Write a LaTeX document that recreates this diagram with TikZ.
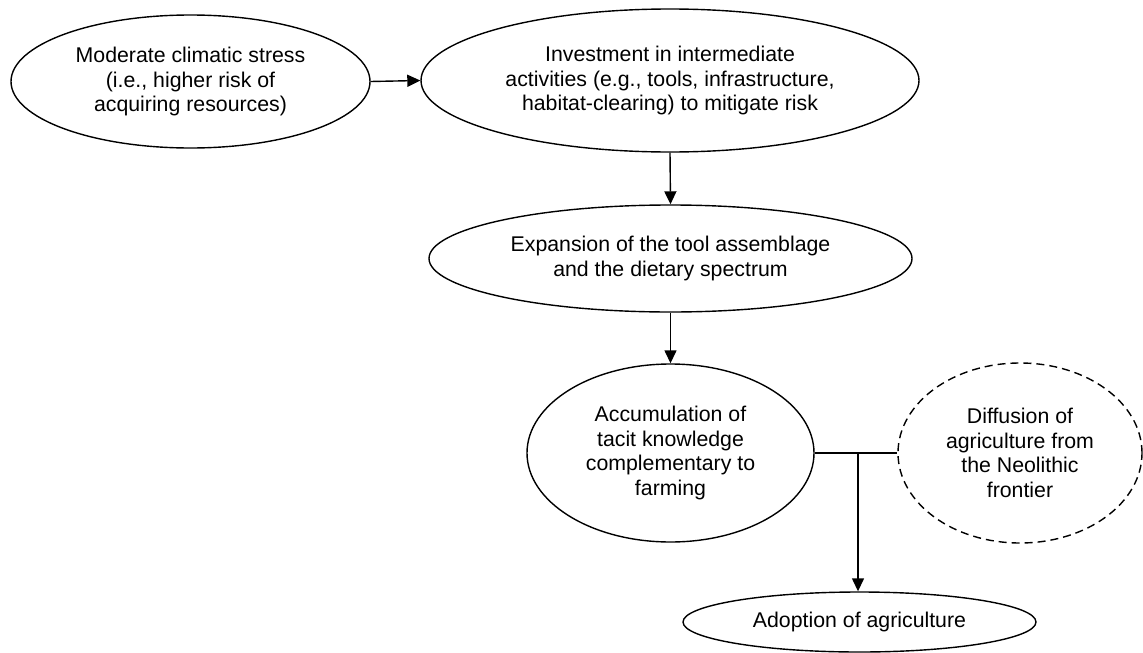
\documentclass[tikz,border=0pt]{standalone}
\usepackage{fontspec}
\setmainfont{Liberation Sans}
\usetikzlibrary{shapes.geometric,arrows.meta}
\begin{document}
\begin{tikzpicture}[x=1pt,y=-1pt,
  bub/.style={ellipse,draw,line width=1.4pt,inner sep=0pt,align=center,
    font=\fontsize{21.3}{24.5}\selectfont},
  dashbub/.style={bub,dash pattern=on 8pt off 5pt},
  link/.style={line width=1.4pt},
  arr/.style={link,-{Triangle[length=13pt,width=12pt]}}]
\useasboundingbox (0,0) rectangle (1143,653);
\node[bub,minimum width=359pt,minimum height=133pt] (e1) at (190.5,81.5)
  {Moderate climatic stress\\(i.e., higher risk of\\acquiring resources)};
\node[bub,minimum width=498pt,minimum height=143pt] (e2) at (670,80.5)
  {Investment in intermediate\\activities (e.g., tools, infrastructure,\\habitat-clearing) to mitigate risk};
\node[bub,minimum width=483pt,minimum height=107pt] (e3) at (670.5,258.5)
  {Expansion of the tool assemblage\\and the dietary spectrum};
\node[bub,minimum width=287pt,minimum height=178pt] (e4) at (670.5,453)
  {Accumulation of\\tacit knowledge\\complementary to\\farming};
\node[dashbub,minimum width=244pt,minimum height=180pt] (e5) at (1020,453)
  {Diffusion of\\agriculture from\\the Neolithic\\frontier};
\node[bub,minimum width=353pt,minimum height=60pt] (e6) at (859.5,622)
  {Adoption of agriculture};
\coordinate (j) at (858,453);
\draw[arr] (e1.east) -- (e2.west);
\draw[arr] (e2.south) -- (e3.north);
\draw[arr] (e3.south) -- (e4.north);
\draw[link] (e4.east) -- (e5.west);
\draw[arr] (j) -- (j |- e6.north);
\end{tikzpicture}
\end{document}
